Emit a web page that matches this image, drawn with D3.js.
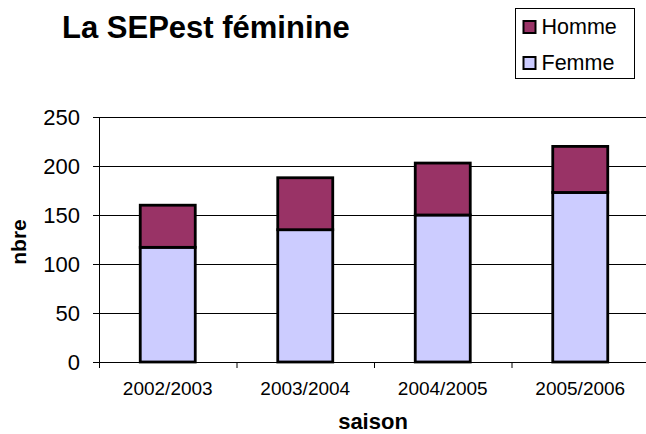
<!DOCTYPE html>
<html>
<head>
<meta charset="utf-8">
<script src="https://cdn.jsdelivr.net/npm/d3@7"></script>
<style>
  body { margin: 0; background: #fff; }
  text { font-family: Arial, "Liberation Sans", sans-serif; fill: #000; }
</style>
</head>
<body>
<div id="chart"></div>
<script>
// chart values
const seasons = ["2002/2003", "2003/2004", "2004/2005", "2005/2006"];
const femme = [117, 135, 150, 173];
const homme = [43, 53, 53, 47];
const yTicks = [0, 50, 100, 150, 200, 250];
const seriesNames = ["Homme", "Femme"];
const seriesColors = ["#993366", "#ccccff"];

const drawChart = () => {
  let margin = { top: 117, left: 99, right: -3, bottom: 72 },
  width = 646 - margin.left - margin.right,
  height = 434 - margin.top - margin.bottom;

  const root = d3.select("#chart")
    .append("svg")
      .attr("width", 646)
      .attr("height", 434);

  const svg = root.append("g")
    .attr("transform", `translate(${margin.left},${margin.top})`);

  // x-scale, one band per season
  const x = d3.scaleBand()
    .domain(seasons)
    .range([0, width])
    .padding(0);

  // y-scale
  const y = d3.scaleLinear()
    .domain([0, 250])
    .range([height, 0]);

  // horizontal grid lines
  svg.append("g")
    .call(d3.axisLeft(y).tickValues(yTicks.slice(1)).tickSize(-width).tickFormat(""))
    .call(g => g.select(".domain").remove())
    .selectAll("line")
      .attr("stroke", "#000")
      .attr("stroke-width", 1);

  // stacked bars
  const stacked = seasons.map((s, i) => ({ season: s, femme: femme[i], homme: homme[i] }));
  const stack = d3.stack().keys(["femme", "homme"])(stacked);
  const colorOf = { femme: seriesColors[1], homme: seriesColors[0] };

  svg.append("g")
    .selectAll("g")
    .data(stack)
    .join("g")
      .attr("fill", d => colorOf[d.key])
    .selectAll("rect")
    .data(d => d)
    .join("rect")
      .attr("x", d => x(d.data.season) + x.bandwidth() * 0.3)
      .attr("width", x.bandwidth() * 0.4)
      .attr("y", d => y(d[1]))
      .attr("height", d => y(d[0]) - y(d[1]))
      .attr("stroke", "#000")
      .attr("stroke-width", 2.8);

  // y-axis
  svg.append("g")
    .call(d3.axisLeft(y).tickValues(yTicks).tickSize(6).tickSizeOuter(0).tickPadding(13))
    .call(g => g.selectAll("text").style("font-size", "22px"))
    .call(g => g.selectAll("line, path").attr("stroke", "#000"));

  // x-axis: ticks between categories
  const xEdges = d3.scaleLinear().domain([0, seasons.length]).range([0, width]);
  svg.append("g")
    .attr("transform", `translate(0,${height})`)
    .call(d3.axisBottom(xEdges).ticks(seasons.length).tickSize(6).tickSizeOuter(0).tickFormat(""))
    .call(g => g.selectAll("line, path").attr("stroke", "#000"));

  // x-axis labels
  svg.append("g")
    .attr("transform", `translate(0,${height})`)
    .call(d3.axisBottom(x).tickSize(0).tickPadding(20))
    .call(g => g.select(".domain").remove())
    .call(g => g.selectAll("text").style("font-size", "19px"));

  // axis titles
  root.append("text")
    .attr("x", 373)
    .attr("y", 429)
    .attr("text-anchor", "middle")
    .style("font-size", "22px")
    .style("font-weight", "bold")
    .text("saison");

  root.append("text")
    .attr("transform", "translate(26,242) rotate(-90)")
    .attr("text-anchor", "middle")
    .style("font-size", "21px")
    .style("font-weight", "bold")
    .text("nbre");

  // chart title
  root.append("text")
    .attr("x", 62)
    .attr("y", 38)
    .style("font-size", "31px")
    .style("font-weight", "bold")
    .text("La SEPest féminine");

  // legend
  const legend = root.append("g")
    .attr("transform", "translate(515.5,8.5)");
  legend.append("rect")
    .attr("width", 119)
    .attr("height", 70)
    .attr("fill", "#fff")
    .attr("stroke", "#000");
  const rows = legend.selectAll("g.row")
    .data(seriesNames)
    .join("g")
      .attr("class", "row")
      .attr("transform", (d, i) => `translate(8,${12.5 + i * 36})`);
  rows.append("rect")
    .attr("width", 12)
    .attr("height", 12)
    .attr("fill", (d, i) => seriesColors[i])
    .attr("stroke", "#000")
    .attr("stroke-width", 2);
  rows.append("text")
    .attr("x", 18)
    .attr("y", 13)
    .style("font-size", "21.5px")
    .text(d => d);
}

drawChart();
</script>
</body>
</html>
